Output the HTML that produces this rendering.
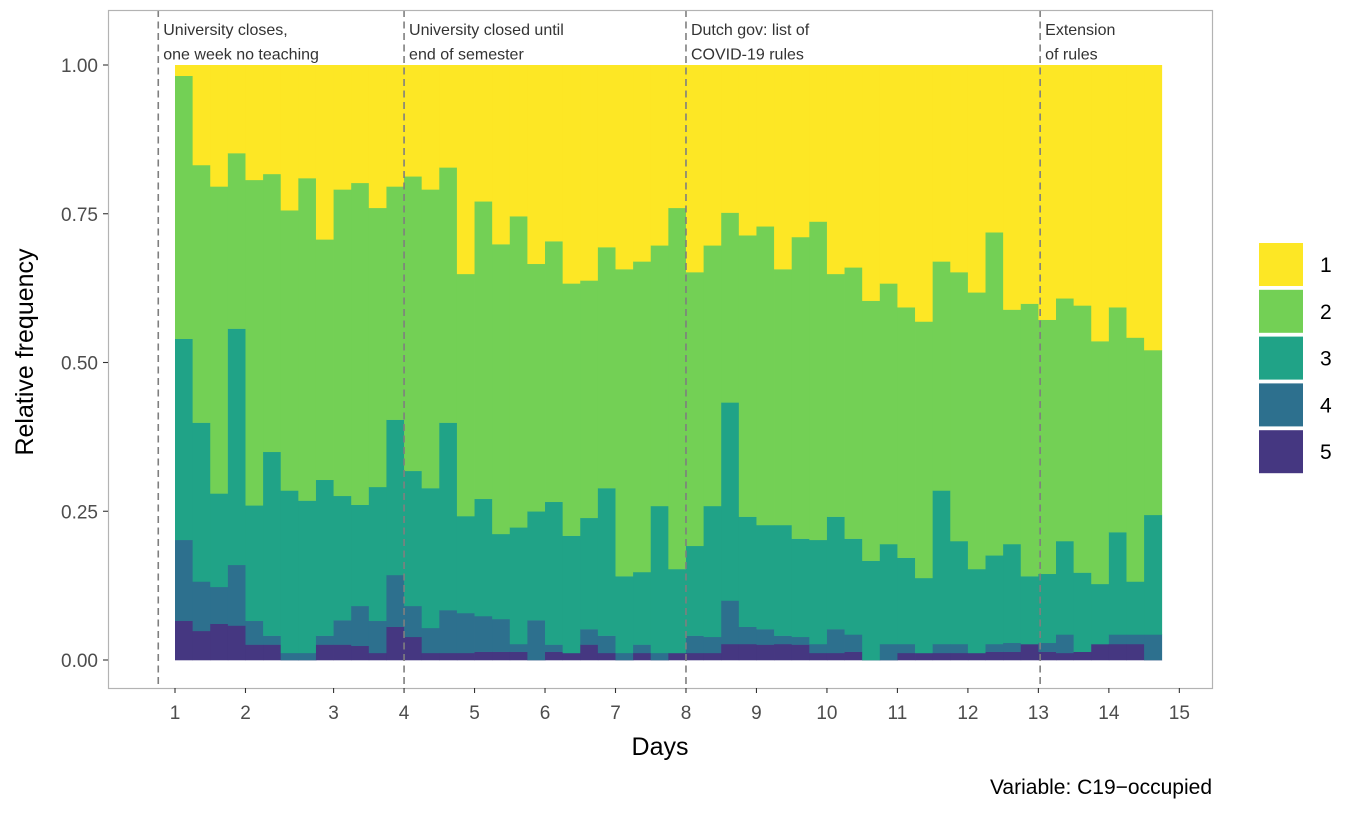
<!DOCTYPE html>
<html><head><meta charset="utf-8"><style>
body{margin:0;background:#fff;font-family:"Liberation Sans",sans-serif;}
svg text{font-family:"Liberation Sans",sans-serif;}
</style></head><body>
<svg id="chart" width="1359" height="814" viewBox="0 0 1359 814" xmlns="http://www.w3.org/2000/svg">
<rect x="0" y="0" width="1359" height="814" fill="#fff"/>
<g id="bars"></g>
<g id="vlines"></g>
<rect x="108.5" y="10.5" width="1104" height="678" fill="none" stroke="#b3b3b3" stroke-width="1.2"/>
<g id="axes"></g>
<text x="660" y="755" font-size="25" text-anchor="middle" fill="#000">Days</text>
<text transform="translate(33,352) rotate(-90)" font-size="25" text-anchor="middle" fill="#000">Relative frequency</text>
<text x="1212" y="794" font-size="21" text-anchor="end" fill="#000">Variable: C19−occupied</text>
<g id="legend"></g>
</svg>
<script>
// shares (%) per bar, per response category
const cat5 = [6.6,4.9,6.1,5.8,2.6,2.6,0,0,2.6,2.6,2.4,1.2,5.6,3.9,1.2,1.2,1.2,1.4,1.4,1.4,0,1.4,1.2,2.6,1.2,0,1.2,0,1.2,1.2,1.2,2.7,2.7,2.6,2.7,2.6,1.2,1.2,1.4,0,0,1.2,1.2,1.2,1.2,1.2,1.4,1.4,2.7,1.4,1.2,1.4,2.7,2.7,2.7,0];
const cat4 = [13.6,8.3,6.2,10.2,4.0,1.5,1.2,1.2,1.5,4.1,6.7,5.4,8.7,5.2,4.2,7.2,6.7,6.0,5.5,1.3,6.7,1.2,0,2.6,2.9,1.2,1.4,1.2,0,2.9,2.7,7.3,2.9,2.6,1.4,1.3,1.5,4.0,2.9,0,2.7,1.5,0,1.5,1.5,0,1.3,1.5,0,1.5,3.1,0,0,1.6,1.6,4.3];
const cat3 = [33.8,26.7,15.7,39.7,19.4,30.9,27.3,25.6,26.2,20.9,17.0,22.5,26.1,22.7,23.5,31.5,16.3,19.7,14.3,19.6,18.3,24.0,19.7,18.7,24.8,12.9,12.2,24.7,14.1,15.1,22.0,33.3,18.5,17.5,18.6,16.5,17.5,18.9,16.1,16.7,16.8,14.5,12.6,25.8,17.3,14.1,14.9,16.6,11.4,11.6,15.7,13.3,10.1,17.2,8.9,20.1];
const cat2 = [44.2,43.3,51.6,29.5,54.7,46.7,47.1,54.2,40.4,51.5,54.1,46.9,39.2,49.5,50.2,42.9,40.7,50.0,48.7,52.3,41.6,43.8,42.4,39.9,40.5,51.6,52.2,43.8,60.7,46.0,43.8,31.9,47.3,50.2,43.0,50.7,53.5,40.8,45.6,43.7,43.8,42.1,43.1,38.5,45.2,46.5,54.3,39.4,45.8,42.7,40.8,44.9,40.8,37.8,41.0,27.7];
const cat1 = [1.8,16.8,20.4,14.8,19.3,18.3,24.4,19.0,29.3,20.9,19.8,24.0,20.4,18.7,20.9,17.2,35.1,22.9,30.1,25.4,33.4,29.6,36.7,36.2,30.6,34.3,33.0,30.3,24.0,34.8,30.3,24.8,28.6,27.1,34.3,28.9,26.3,35.1,34.0,39.6,36.7,40.7,43.1,33.0,34.8,38.2,28.1,41.1,40.1,42.8,39.2,40.4,46.4,40.7,45.8,47.9];
const categories = ["1","2","3","4","5"];
const tickLabels = ["1","2","3","4","5","6","7","8","9","10","11","12","13","14","15"];
const tickAt = [0,4,9,13,17,21,25,29,33,37,41,45,49,53,57]; // in bar-index units
const yTicks = [0,0.25,0.5,0.75,1];
const eventAt = [-0.95,13,29,49.1];
const eventText = [["University closes,","one week no teaching"],["University closed until","end of semester"],["Dutch gov: list of","COVID-19 rules"],["Extension","of rules"]];

const colors = ["#FDE725","#73D055","#20A387","#2D708E","#453781"];
const NS="http://www.w3.org/2000/svg";
const xs = i => 175 + i*17.62;
const ys = v => 660 - v*595;
function mk(tag, attrs, parent){const e=document.createElementNS(NS,tag);for(const k in attrs)e.setAttribute(k,attrs[k]);parent.appendChild(e);return e;}

const barsG=document.getElementById('bars');
const layers=[cat5,cat4,cat3,cat2,cat1];
for(let i=0;i<cat1.length;i++){
  let cum=0;
  const tot=cat1[i]+cat2[i]+cat3[i]+cat4[i]+cat5[i];
  for(let l=0;l<5;l++){
    const v=layers[l][i]/tot;
    const r=mk('rect',{x:xs(i),y:ys(cum+v),width:17.62+0.4,height:Math.max(0,v*595+0.3),fill:colors[4-l]},barsG);
    
    
    cum+=v;
  }
}
const vl=document.getElementById('vlines');
eventAt.forEach((d,k)=>{
  const x=xs(d);
  const ln=mk('line',{x1:x,x2:x,y1:10,y2:688,stroke:'#7f7f7f','stroke-width':1.6,'stroke-dasharray':'7,4.5'},vl);
  
  
  eventText[k].forEach((t,j)=>{
    const tx=mk('text',{x:x+5,y:35+j*24.5,'font-size':16,fill:'#333'},vl);
    tx.textContent=t;
    
    
  });
});
const ax=document.getElementById('axes');
yTicks.forEach(v=>{
  const y=ys(v);
  const t=mk('line',{x1:103,x2:108,y1:y,y2:y,stroke:'#333','stroke-width':1.1},ax);
  
  
  const tx=mk('text',{x:98,y:y+7,'font-size':19,'text-anchor':'end',fill:'#4d4d4d'},ax);
  tx.textContent=v.toFixed(2);
  
  
});
tickAt.forEach((d,k)=>{
  const x=xs(d);
  const t=mk('line',{x1:x,x2:x,y1:688,y2:693,stroke:'#333','stroke-width':1.1},ax);
  
  
  const tx=mk('text',{x:x,y:719,'font-size':19,'text-anchor':'middle',fill:'#4d4d4d'},ax);
  tx.textContent=tickLabels[k];
  
  
});
const lg=document.getElementById('legend');
categories.forEach((c,k)=>{
  const y=243+k*46.8;
  const r=mk('rect',{x:1259,y:y,width:44,height:43,fill:colors[k]},lg);
  
  
  const tx=mk('text',{x:1320,y:y+29,'font-size':21,fill:'#000'},lg);
  tx.textContent=c;
  
  
});
</script>
</body></html>
